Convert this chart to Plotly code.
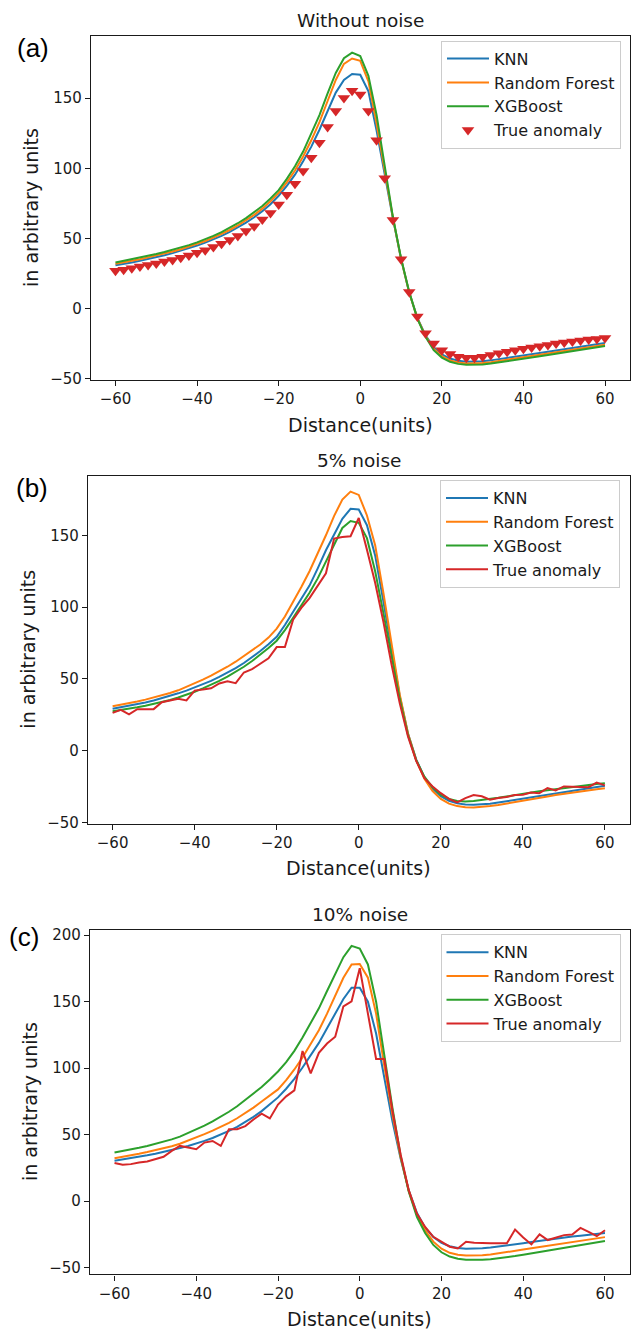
import plotly.graph_objects as go

# Distance grid (units)
distance = list(range(-60, 61, 2))

# ---- Panel (a): without noise ----
true_a = [27.0, 27.7, 28.9, 30.1, 31.1, 32.2, 33.6, 34.8, 36.4, 37.9,
          39.8, 41.7, 44.0, 46.3, 49.0, 51.8, 55.3, 58.8, 63.6, 68.2,
          74.2, 81.2, 89.0, 98.2, 107.6, 118.2, 129.5, 140.8, 150.2, 155.4,
          152.6,
          140.8, 120.1, 93.0, 63.3, 35.3, 12.0, -5.5, -17.5, -24.8, -29.5,
          -32.3, -34.2, -34.9, -34.9, -34.2, -33.0, -31.8, -30.7, -29.5, -28.6,
          -27.6, -26.7, -25.8, -24.8, -24.1, -23.4, -22.7, -22.0, -21.5, -20.8]
knn_a = [31.0, 31.8, 33.0, 34.2, 35.4, 36.7, 38.1, 39.6, 41.3, 43.0,
         45.0, 47.1, 49.4, 51.9, 54.7, 57.8, 61.3, 65.2, 69.5, 74.5,
         80.5, 87.5, 95.5, 105.0, 115.5, 127.5, 141.0, 154.0, 163.0, 167.2,
         166.7,
         155.0, 127.0, 95.5, 64.5, 35.5, 11.5, -6.5, -19.0, -27.5, -32.5,
         -35.5, -37.0, -37.7, -37.8, -37.4, -36.8, -36.0, -35.2, -34.3, -33.4,
         -32.5, -31.6, -30.7, -29.8, -28.9, -28.0, -27.1, -26.2, -25.3, -24.4]
rf_a = [32.0, 33.0, 34.1, 35.3, 36.6, 37.9, 39.3, 40.8, 42.4, 44.2,
        46.2, 48.3, 50.6, 53.2, 56.1, 59.3, 62.9, 66.9, 71.3, 76.5,
        82.5, 90.0, 98.5, 108.5, 120.0, 133.0, 148.0, 163.0, 174.5, 178.3,
        176.6,
        162.0, 132.0, 97.5, 65.0, 35.5, 11.5, -6.8, -19.5, -28.5, -33.8,
        -36.8, -38.3, -39.0, -39.1, -38.7, -38.1, -37.3, -36.4, -35.5, -34.6,
        -33.7, -32.8, -31.9, -31.0, -30.1, -29.2, -28.3, -27.4, -26.5, -25.6]
xgb_a = [33.0, 34.1, 35.2, 36.4, 37.7, 39.0, 40.4, 41.9, 43.5, 45.3,
         47.3, 49.5, 51.9, 54.6, 57.6, 60.9, 64.6, 68.7, 73.2, 78.5,
         84.5, 92.5, 101.5, 112.0, 124.5, 138.0, 153.5, 168.0, 178.5, 182.5,
         180.0,
         166.0, 138.0, 100.0, 65.5, 36.0, 12.0, -7.0, -20.0, -29.5, -34.8,
         -37.8, -39.3, -40.0, -40.1, -39.7, -39.1, -38.3, -37.4, -36.5, -35.6,
         -34.7, -33.8, -32.9, -32.0, -31.1, -30.2, -29.3, -28.4, -27.5, -26.6]

# ---- Panel (b): 5% noise ----
true_b = [26.4, 28.5, 25.3, 29.0, 29.0, 29.0, 33.8, 35.0, 36.2, 35.0,
          41.9, 42.6, 43.5, 46.9, 48.3, 47.1, 54.5, 56.8, 60.3, 64.4,
          72.2, 72.2, 91.3, 99.4, 106.3, 115.0, 123.5, 147.7, 148.8, 149.3,
          162.0,
          140.0, 117.0, 90.0, 60.0, 33.0, 10.0, -7.0, -19.0, -24.8, -29.5,
          -33.4, -35.9, -32.9, -30.8, -31.7, -34.1, -32.9, -32.2, -30.8, -30.6,
          -29.0, -29.5, -26.0, -27.6, -24.8, -24.8, -25.3, -25.3, -22.1, -24.1]
knn_b = [29.2, 30.2, 31.2, 32.3, 33.6, 35.0, 36.5, 38.2, 40.0, 41.9,
         44.0, 46.2, 48.7, 51.4, 54.3, 57.5, 61.1, 65.1, 69.4, 74.1,
         79.3, 87.5, 96.5, 105.5, 115.0, 127.0, 139.6, 150.5, 161.5, 168.4,
         167.9,
         157.0, 136.0, 104.0, 70.0, 38.0, 12.0, -6.0, -18.5, -26.5, -31.5,
         -34.8, -36.6, -37.4, -37.6, -37.4, -36.8, -36.0, -35.1, -34.1, -33.1,
         -32.1, -31.1, -30.1, -29.2, -28.3, -27.4, -26.6, -25.8, -25.0, -24.3]
rf_b = [31.0, 32.0, 33.1, 34.3, 35.6, 37.0, 38.5, 40.2, 42.1, 44.4,
        46.9, 49.5, 52.3, 55.3, 58.5, 62.0, 65.8, 69.8, 74.0, 78.8,
        85.0, 93.5, 103.5, 114.0, 125.0, 137.0, 150.0, 163.5, 174.8, 180.4,
        178.1,
        163.8, 143.0, 110.0, 73.0, 39.0, 12.0, -6.5, -19.5, -28.0, -33.5,
        -36.8, -38.5, -39.3, -39.4, -39.1, -38.5, -37.7, -36.8, -35.8, -34.8,
        -33.8, -32.8, -31.8, -30.8, -29.9, -29.0, -28.2, -27.4, -26.7, -26.0]
xgb_b = [27.6, 28.4, 29.3, 30.3, 31.4, 32.6, 33.9, 35.4, 37.1, 39.0,
         41.1, 43.4, 45.9, 48.6, 51.6, 54.9, 58.5, 62.5, 66.8, 71.5,
         76.6, 84.0, 92.5, 101.0, 110.0, 120.0, 131.6, 144.2, 155.1, 159.9,
         158.7,
         148.0, 125.0, 96.0, 65.0, 36.0, 11.0, -6.5, -18.0, -25.5, -30.5,
         -33.5, -35.0, -35.3, -35.0, -34.4, -33.6, -32.7, -31.8, -30.8, -29.9,
         -29.0, -28.2, -27.4, -26.6, -25.9, -25.2, -24.5, -23.8, -23.1, -22.5]

# ---- Panel (c): 10% noise ----
true_c = [28.6, 27.3, 27.8, 29.1, 29.8, 31.6, 33.3, 37.8, 41.5, 40.3,
          39.0, 44.0, 45.2, 41.5, 54.0, 54.0, 56.4, 61.4, 65.7, 62.2,
          72.6, 78.8, 83.3, 112.9, 96.0, 111.5, 118.5, 123.6, 146.5, 150.3,
          175.2,
          141.0, 106.9, 106.9, 68.0, 35.0, 8.0, -9.5, -19.5, -26.9, -30.6,
          -34.3, -35.6, -30.6, -31.4, -31.8, -31.8, -31.8, -31.8, -21.4, -27.4,
          -32.6, -25.1, -29.3, -27.4, -25.6, -25.1, -20.2, -23.2, -26.4, -21.9]
knn_c = [30.3, 31.2, 32.2, 33.3, 34.4, 35.6, 36.9, 38.3, 39.9, 41.5,
         43.3, 45.3, 47.5, 50.0, 52.8, 55.9, 59.4, 63.3, 67.7, 72.6,
         78.0, 84.5, 92.0, 100.5, 109.5, 119.0, 130.0, 141.5, 152.0, 160.5,
         160.5,
         150.0, 126.0, 93.0, 60.0, 32.0, 8.0, -9.0, -20.0, -27.0, -31.5,
         -34.0, -35.3, -35.8, -35.8, -35.5, -35.0, -34.3, -33.5, -32.6, -31.7,
         -30.8, -29.9, -29.0, -28.2, -27.4, -26.7, -26.0, -25.3, -24.6, -24.0]
rf_c = [32.3, 33.3, 34.4, 35.6, 36.9, 38.2, 39.7, 41.3, 43.1, 45.4,
        48.0, 50.4, 53.0, 55.8, 58.9, 62.3, 66.1, 70.3, 74.9, 79.2,
        84.0, 91.0, 99.0, 108.0, 118.0, 128.5, 141.0, 155.0, 168.0, 178.0,
        178.4,
        168.0, 141.0, 102.0, 65.0, 33.0, 7.5, -10.5, -22.0, -30.5, -35.8,
        -38.9, -40.4, -41.0, -41.1, -40.8, -40.2, -39.4, -38.5, -37.5, -36.5,
        -35.5, -34.5, -33.5, -32.5, -31.6, -30.7, -29.8, -28.9, -28.0, -27.1]
xgb_c = [36.5, 37.6, 38.8, 40.1, 41.5, 43.0, 44.6, 46.4, 48.5, 51.1,
         54.0, 56.8, 60.0, 63.4, 67.2, 71.3, 75.9, 80.6, 85.8, 91.5,
         97.5, 104.5, 113.0, 123.0, 133.5, 145.0, 158.0, 171.0, 183.5, 192.0,
         190.0,
         178.0, 150.0, 110.0, 70.0, 34.0, 7.0, -12.0, -24.0, -33.0, -38.5,
         -41.7, -43.4, -44.2, -44.4, -44.2, -43.7, -43.0, -42.2, -41.3, -40.3,
         -39.3, -38.3, -37.3, -36.3, -35.3, -34.3, -33.4, -32.5, -31.3, -30.1]

series_names = ["KNN", "Random Forest", "XGBoost", "True anomaly"]
panel_titles = ["Without noise", "5% noise", "10% noise"]
panel_tags = ["(a)", "(b)", "(c)"]
y_ticks = [[-50, 0, 50, 100, 150], [-50, 0, 50, 100, 150], [-50, 0, 50, 100, 150, 200]]
x_ticks = [-60, -40, -20, 0, 20, 40, 60]

BLUE, ORANGE, GREEN, RED = "#1f77b4", "#ff7f0e", "#2ca02c", "#d62728"
W, H = 631, 1339
TICK_FONT = dict(family="DejaVu Sans", size=15, color="#1a1a1a")

# Plot-area boxes in pixels: left, right, top, bottom
boxes = [(91, 629.5, 33.3, 380.0),
         (88, 629.5, 476.7, 827.3),
         (90, 629.5, 934.3, 1282.0)]
y_ranges = [[-50.7, 194.3], [-50.6, 191.4], [-55.2, 204.2]]
legend_tops = [38.0, 481.0, 939.0]
legend_lefts = [441, 440, 440.5]

panels = [
    (knn_a, rf_a, xgb_a, true_a, True),
    (knn_b, rf_b, xgb_b, true_b, False),
    (knn_c, rf_c, xgb_c, true_c, False),
]

fig = go.Figure()
annotations = []

for i, (knn, rf, xgb, true, true_markers) in enumerate(panels):
    ax = "" if i == 0 else str(i + 1)
    leg = "legend" if i == 0 else f"legend{i + 1}"
    for vals, name, col in [(knn, series_names[0], BLUE),
                            (rf, series_names[1], ORANGE),
                            (xgb, series_names[2], GREEN)]:
        fig.add_trace(go.Scatter(x=distance, y=vals, name=name, mode="lines",
                                 line=dict(color=col, width=2),
                                 xaxis="x" + ax, yaxis="y" + ax, legend=leg))
    if true_markers:
        fig.add_trace(go.Scatter(x=distance, y=true, name=series_names[3], mode="markers",
                                 marker=dict(symbol="triangle-down", size=11, color=RED,
                                             line=dict(width=0)),
                                 xaxis="x" + ax, yaxis="y" + ax, legend=leg))
    else:
        fig.add_trace(go.Scatter(x=distance, y=true, name=series_names[3], mode="lines",
                                 line=dict(color=RED, width=2),
                                 xaxis="x" + ax, yaxis="y" + ax, legend=leg))

    l, r, t, b = boxes[i]
    axis_common = dict(showgrid=False, zeroline=False, showline=True, mirror=True,
                       linecolor="#1a1a1a", linewidth=1.4, ticks="outside",
                       ticklen=5, tickwidth=1.2, tickcolor="#1a1a1a",
                       tickfont=TICK_FONT)
    fig.update_layout(**{
        "xaxis" + ax: dict(domain=[l / W, r / W], range=[-66, 66], tickvals=x_ticks,
                           anchor="y" + ax, **axis_common),
        "yaxis" + ax: dict(domain=[1 - b / H, 1 - t / H], range=y_ranges[i],
                           tickvals=y_ticks[i], anchor="x" + ax, **axis_common),
        leg: dict(x=legend_lefts[i] / W, y=1 - legend_tops[i] / H, xanchor="left",
                  yanchor="top", bgcolor="rgba(255,255,255,0.85)",
                  bordercolor="#cccccc", borderwidth=1, itemwidth=42,
                  font=dict(family="DejaVu Sans", size=16, color="#1a1a1a")),
    })

    cx = (l + r) / 2
    annotations.append(dict(text=panel_titles[i], x=cx / W, y=1 - (t - 15.5) / H,
                            xref="paper", yref="paper", showarrow=False,
                            font=dict(family="DejaVu Sans", size=18.5, color="#1a1a1a"),
                            xanchor="center", yanchor="middle"))
    annotations.append(dict(text="Distance(units)", x=cx / W, y=1 - (b + 45) / H,
                            xref="paper", yref="paper", showarrow=False,
                            font=dict(family="DejaVu Sans", size=19, color="#1a1a1a"),
                            xanchor="center", yanchor="middle"))
    annotations.append(dict(text="in arbitrary units", x=(l - 60) / W, y=1 - (t + b) / 2 / H,
                            xref="paper", yref="paper", showarrow=False, textangle=-90,
                            font=dict(family="DejaVu Sans", size=19, color="#1a1a1a"),
                            xanchor="center", yanchor="middle"))
    tag_y = [45, 489, 942][i]
    tag_x = [33, 32, 24][i]
    annotations.append(dict(text=panel_tags[i], x=tag_x / W, y=1 - tag_y / H,
                            xref="paper", yref="paper", showarrow=False,
                            font=dict(family="Liberation Sans", size=26, color="black"),
                            xanchor="center", yanchor="middle"))

fig.update_layout(width=W, height=H, margin=dict(l=0, r=0, t=0, b=0),
                  paper_bgcolor="white", plot_bgcolor="white",
                  annotations=annotations, showlegend=True)

fig.write_html("out.html")
